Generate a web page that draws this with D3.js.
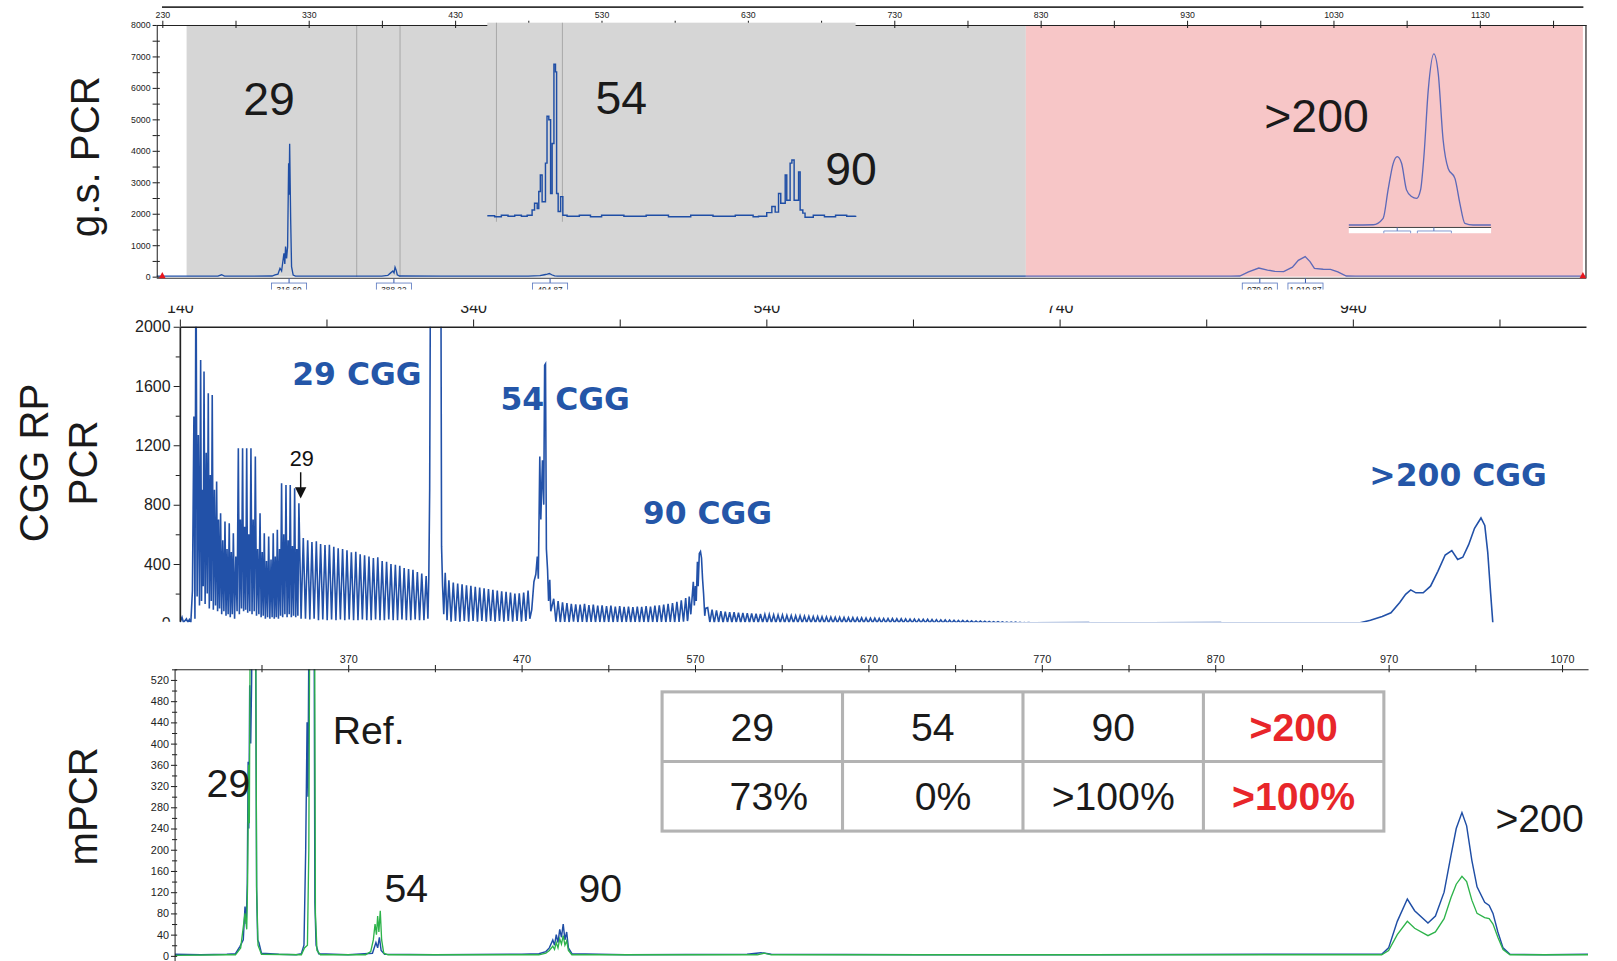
<!DOCTYPE html>
<html><head><meta charset="utf-8">
<script src="https://cdn.jsdelivr.net/npm/d3@7"></script>
<style>body{margin:0;background:#fff}svg{display:block}</style>
</head><body><svg id="c"></svg>
<script>
// ---------------- DATA ----------------
// Top panel (g.s. PCR) — size (bp) vs fluorescence
const topTicks = [230,330,430,530,630,730,830,930,1030,1130];
const topMinorTicks = [280,380,480,580,680,780,880,980,1080,1180];
const topYTicks = [0,1000,2000,3000,4000,5000,6000,7000,8000];
const topYMinor = [500,1500,2500,3500,4500,5500,6500,7500];
const topBins = [362.8, 392.4];
const topGrayRange = [246.6, 819.9];
const topPinkRange = [819.9, 1200.4];
const topTrace = [
 [226.2,15],[240,18],[255,15],[268,18],[270.5,60],[272.5,18],[290,15],[305,20],[307,55],[309,80],
 [310.4,266],[311.5,180],[313.1,744],[313.7,400],[314.2,954],[314.9,580],[315.6,954],[316.3,3603],
 [316.6,2600],[317,4220],[317.7,1803],[318.3,318],[319.4,50],[321,18],[340,15],[360,18],[380,15],
 [384,40],[386,120],[387.5,180],[388.3,120],[389,300],[389.8,200],[390.5,60],[392,20],[420,15],
 [450,18],[480,15],[488,30],[491,60],[493,80],[494.4,100],[496,60],[498,25],[500,15],[600,18],
 [700,15],[819.9,15],[900,18],[960,15],[966,20],[972,150],[979,273],[985,210],[990,170],[996,160],
 [1002,300],[1006,520],[1010.7,636],[1014,480],[1017,260],[1023,235],[1028,230],[1033,150],
 [1038.8,20],[1045,15],[1100,18],[1202.5,15]
];
const topPeakLabels = [[316.6,"316.60"],[388.2,"388.22"],[494.9,"494.87"],[979.7,"979.69"],[1010.9,"1,010.87"]];
const topLabels = [["29",260.8,111.5],["54",602.5,110.9],["90",825.3,179.4],[">200",1276.7,127.7]];
// inset (zoom of 54 / 90 peaks)
const inset54Trace = [
 [358.7,3],[362,1],[365,4],[368,2],[371,4],[374,2],[376.6,4],[378.8,14],[379.9,27],[381.1,17],[381.8,50],
 [382.5,82],[383.3,30],[384.8,105],[385.5,196],[386.3,189],[387.1,46],[387.8,143],[388.6,297],[389.3,282],
 [389.8,46],[390.5,11],[391.6,40],[392.6,4],[394.5,2],[400,4],[405,1],[410,4],[420,2],[430,4],[440,1],
 [450,4],[460,2],[470,4],[478,1],[480.4,2],[484.1,9],[486.4,21],[487.9,10],[489.4,46],[490.4,27],
 [492.4,82],[493.1,33],[494.6,105],[495.4,111],[496.4,33],[498.4,88],[499.1,14],[500.3,8],[501.3,0],
 [505,4],[510,1],[515,4],[520,2],[524,3]
];
// inset (zoom of >200 peaks)
const insetRTrace = [
 [937.3,0],[958.6,1],[967.3,25],[971.6,131],[976.1,230],[979.6,255],[983.4,230],[987.7,131],[992.1,106],
 [996.5,99],[1000,131],[1002.9,255],[1006.7,503],[1011.6,638],[1015.4,566],[1019.7,317],[1024.1,211],
 [1030,174],[1034.3,81],[1038.7,6],[1045.9,0],[1061.4,0]
];
const insetRMarks = [979.6, 1011.6];

// Middle panel (CGG RP PCR)
const midTicks = [140,340,540,740,940];
const midMinorTicks = [240,440,640,840,1040];
const midYTicks = [0,400,800,1200,1600,2000];
const midYMinor = [200,600,1000,1400,1800];
const midStart = [[140,2],[141.5,40],[142.5,5],[144.5,30],[145.5,5],[146.5,25],[147.5,5],[148.6,220]];
// [bp, peak, trough]
const midRegion1 = [
 [149.6,1394,30],[151.0,2600,180],[152.6,1270,120],[154.2,1776,150],[155.4,900,250],[156.5,1698,130],
 [158.0,1150,200],[159.4,1552,100],[160.8,1000,150],[162.1,1540,90],[163.6,900,120],[165.1,956,80],
 [166.4,700,100],[167.8,742,60],[169.3,560,80],[170.8,686,50],[172.2,500,60],[173.7,675,40],
 [175.1,480,60],[176.5,607,30],[178.2,450,80],[179.9,1181,60],[181.3,700,100],[182.8,1181,80],
 [184.2,650,90],[185.6,1181,70],[187.0,600,80],[188.5,1181,60],[190.0,700,80],[191.5,1124,50],
 [193.1,500,60],[194.7,742,40],[196.2,480,50],[197.6,607,30],[199.1,420,40],[200.6,585,30],
 [202.2,430,40],[203.7,607,30],[205.1,450,40],[206.5,630,30],[208.0,500,50],[209.4,945,40],
 [210.9,600,60],[212.4,933,40],[213.9,560,60],[215.3,933,40],[216.8,520,50],[218.3,911,40],
 [219.8,500,50],[221.2,810,30],[224.2,574,30],[227.2,560,25],[230.1,548,30],[233.1,552,20],
 [236,535,25],[239,528,20],[242,530,25],[245,515,20],[248,506,25],[251,500,20],[254,492,25],
 [257,478,20],[260,482,20],[263,465,25],[266,458,20],[269,450,20],[272,440,25],[275,444,20],
 [278,420,20],[281,415,25],[284,400,20],[287,394,20],[290,388,25],[293,372,20],[296,366,20],
 [299,360,25],[302,345,20],[305,335,20],[308,318,30]
];
const midPeak29 = [[309.8,300],[310.4,900],[311,2600],[318,2600],[318.5,520],[319.2,250],[320,60]];
const midRegion2 = [
 [321,340,20],[323.5,290,10],[326.5,275,15],[329.5,268,10],[332.5,262,15],[335.5,255,10],[338.5,252,15],
 [341.5,246,10],[344.5,240,15],[347.5,236,10],[350.5,230,15],[353.5,226,10],[356.5,220,15],[359.5,216,10],
 [362.5,212,15],[365.5,206,10],[368.5,200,15],[371.5,202,10],[374.5,206,15],[377.5,220,30]
];
const midPeak54 = [[380,90],[381.5,280],[382.8,330],[383.8,450],[384.5,300],[385.5,1124],[386.2,700],
 [387.3,1100],[388.2,800],[388.8,1740],[389.4,1750],[390,500],[390.8,360],[391.5,150],[392.3,293],[393,80]];
const midRegion3 = [
 [395,165,10],[398,150,5],[401,140,8],[404,135,5],[407,130,10],[410,128,5],[413,125,8],[416,130,5],
 [419,122,8],[422,125,5],[425,118,8],[428,120,5],[431,115,8],[434,118,5],[437,112,8],[440,115,5],
 [443,110,8],[446,112,5],[449,108,8],[452,112,5],[455,110,8],[458,115,5],[461,112,8],[464,118,5],
 [467,120,8],[470,125,5],[473,130,8],[476,135,5],[479,145,8],[482,155,10],[485,170,15]
];
const midPeak90 = [[486.5,30],[487.4,180],[488.5,60],[490.2,280],[490.9,120],[491.6,250],[492.2,150],
 [493,414],[493.5,250],[494.3,470],[495.1,483],[495.8,440],[496.5,300],[497.2,200],[498,50],[498.6,100]];
const midRegion4 = [
 [500,105,5],[503,92,3],[506,86,5],[509,82,3],[512,78,5],[515,75,3],[518,74,4],[521,71,3],[524,69,4],
 [527,67,3],[530,66,4],[533,64,3],[536,62,4],[539,60,3],[542,59,3],[545,57,2],[548,56,3],[551,55,2],
 [554,53,3],[557,52,2],[560,51,3],[563,50,2],[566,48,3],[569,47,2],[572,46,2],[575,45,2],[578,44,2],
 [581,43,2],[584,42,2],[587,41,2],[590,40,2],[593,39,2],[596,38,2],[599,38,2],[602,37,2],[605,36,2],
 [608,35,2],[611,34,2],[614,34,2],[617,33,2],[620,32,2],[623,32,2],[626,31,2],[629,30,2],[632,30,2],
 [635,29,2],[638,28,2],[641,28,2],[644,27,2],[647,26,2],[650,26,2],[653,25,2],[656,24,2],[659,23,2],
 [662,22,2],[665,21,2],[668,20,2],[671,19,2],[674,18,2],[677,17,2],[680,16,2],[683,15,2],[686,14,2],
 [689,13,2],[692,12,2],[695,11,2],[698,10,2],[701,9,2],[704,8,2],[707,8,2],[710,7,2],[713,6,2],
 [716,5,2],[719,4,2]
];
const midTail = [[721,2],[760,4],[761,2],[800,3],[801,2],[850,4],[851,2],[900,3],[901,2],[940,2]];
const midPeak200 = [[945,3],[952,20],[960,45],[966,70],[972,140],[976,195],[979.5,225],[983,205],[988,205],
 [993,250],[998,350],[1003,460],[1007.5,490],[1011.5,430],[1015,445],[1019,530],[1023,640],[1027.4,710],
 [1030,660],[1032,480],[1034,200],[1035.5,0]];
const midLabels = [["29 CGG",346,373.3],["54 CGG",548,397.6],["90 CGG",686,508],[">200 CGG",1414,471]];

// Bottom panel (mPCR)
const botTicks = [370,470,570,670,770,870,970,1070];
const botMinorTicks = [320,420,520,620,720,820,920,1020];
const botYTicks = [0,40,80,120,160,200,240,280,320,360,400,440,480,520];
const botYMinor = [20,60,100,140,180,220,260,300,340,380,420,460,500,540];
const botBlue = [
 [270,3],[285,2],[300,3],[305,4],[307.6,18],[309.5,30],[310.5,93],[311.2,60],[311.8,137],[312.3,366],
 [312.7,240],[313.2,510],[313.8,400],[314.3,514],[314.8,700],[316.5,700],[317.2,124],[317.8,30],[318.5,25],
 [320,5],[330,3],[340,2],[343,4],[344.5,20],[345.5,200],[346.3,440],[346.8,300],[347.5,700],[350.3,700],
 [350.8,100],[351.5,20],[353,4],[370,2],[384,5],[386,25],[387,15],[388,35],[389,10],[391,3],[420,2],
 [470,3],[480,4],[484,8],[486,15],[488,30],[489,20],[490,40],[491,25],[492,50],[493,35],[494,60],[495,30],
 [496,45],[497,15],[499,4],[530,2],[600,3],[608,6],[614,3],[700,2],[800,2],[900,3],[966,3],[970,15],
 [975,65],[980.8,107],[985,85],[992.7,62],[997,75],[1002,120],[1006,190],[1009,240],[1012.3,270],
 [1015,245],[1018,180],[1021,130],[1025.4,101],[1028,95],[1030.2,80],[1033,45],[1036,15],[1040,3],
 [1060,2],[1085,3]
];
const botGreen = [
 [270,1],[300,2],[305,2],[308,15],[310.5,80],[311.5,50],[312,140],[312.6,360],[313,250],[313.6,700],
 [316.6,700],[317.2,130],[318,20],[320,3],[343,2],[344.8,15],[346.5,20],[347.3,200],[347.9,700],
 [350.6,700],[351.1,80],[352,10],[354,2],[380,2],[383,8],[384.5,30],[385.5,60],[386.3,40],[387,75],
 [387.7,45],[388.5,85],[389.3,30],[390.5,5],[393,2],[480,2],[484,5],[486,10],[488,18],[489,12],[490,25],
 [491,15],[492,32],[493,22],[494,38],[495,20],[496,28],[497,10],[499,2],[606,2],[610,5],[614,2],
 [966,2],[970,10],[975,40],[980.8,65],[985,52],[992.7,38],[997,45],[1002,70],[1006,110],[1009,135],
 [1012.3,150],[1015,140],[1018,105],[1021,80],[1025.4,72],[1028,70],[1030.2,60],[1033,35],[1036,12],
 [1040,2],[1085,2]
];
const botLabels = [["29",221.4,772.5],["Ref.",357.5,722],["54",394,875],["90",582,875],[">200",1493,807]];
const tableRow1 = ["29","54","90",">200"];
const tableRow2 = ["73%","0%",">100%",">100%"];
const tableHighlight = [false,false,false,true];

// ---------------- DRAWING ----------------
const SANS = "'Liberation Sans', Arial, sans-serif";
const NARROW = "'Liberation Sans Narrow', 'Liberation Sans', Arial, sans-serif";
const BOLD = "'DejaVu Sans', Verdana, sans-serif";
const BLUE = "#1f4ea5", LAV = "#5d69b8", GREEN = "#2db34a", LBLUE = "#2456a8", RED = "#e8262a";

const svg = d3.select("#c").attr("width",1617).attr("height",961).attr("viewBox","0 0 1568 932");
svg.append("rect").attr("width",1568).attr("height",932).attr("fill","#fff");
const defs = svg.append("defs");

function styleAxis(g, size, font, col){
  g.selectAll("text").attr("font-family", font).attr("font-size", size).attr("fill", col||"#222");
  g.selectAll("line").attr("stroke","#222");
  g.select(".domain").attr("stroke","#222");
}
function noDomain(g){ g.select(".domain").remove(); }

// ===== TOP PANEL =====
const xT = d3.scaleLinear().domain([226.2,1202.5]).range([151.9,1538]);
const yT = d3.scaleLinear().domain([0,8000]).range([268.3,24.2]);
const topG = svg.append("g");
topG.append("line").attr("x1",157).attr("x2",1535.5).attr("y1",6.9).attr("y2",6.9).attr("stroke","#333").attr("stroke-width",1.5);
topG.append("rect").attr("x",xT(topGrayRange[0])).attr("width",xT(topGrayRange[1])-xT(topGrayRange[0]))
  .attr("y",yT(8000)).attr("height",yT(0)-yT(8000)).attr("fill","#d6d6d6");
topG.append("rect").attr("x",xT(topPinkRange[0])).attr("width",xT(topPinkRange[1])-xT(topPinkRange[0]))
  .attr("y",yT(8000)).attr("height",yT(0)-yT(8000)).attr("fill","#f7c6c7");
topG.selectAll(".bin").data(topBins).join("line").attr("x1",d=>xT(d)).attr("x2",d=>xT(d))
  .attr("y1",yT(8000)).attr("y2",yT(0)).attr("stroke","#a9a9a9").attr("stroke-width",1);
const lineT = d3.line().x(d=>xT(d[0])).y(d=>yT(d[1]));
topG.append("path").attr("d",lineT(topTrace.filter(d=>d[0]<=820))).attr("fill","none").attr("stroke",BLUE).attr("stroke-width",1.3);
topG.append("path").attr("d",lineT(topTrace.filter(d=>d[0]>=819.9))).attr("fill","none").attr("stroke",LAV).attr("stroke-width",1.3);
topG.append("line").attr("x1",151.9).attr("x2",1538).attr("y1",269.8).attr("y2",269.8).attr("stroke","#333").attr("stroke-width",1);
topG.append("line").attr("x1",1538).attr("x2",1538).attr("y1",24.2).attr("y2",270).attr("stroke","#555").attr("stroke-width",1.5);
topG.append("g").attr("transform",`translate(0,${yT(8000)})`)
  .call(d3.axisTop(xT).tickValues(topTicks).tickSize(4).tickSizeOuter(0).tickPadding(3).tickFormat(d3.format("d")))
  .call(g=>styleAxis(g,8.5,NARROW));
topG.append("g").attr("transform",`translate(0,${yT(8000)})`)
  .call(d3.axisTop(xT).tickValues(topMinorTicks).tickSize(4).tickFormat("")).call(noDomain).call(g=>styleAxis(g,8,NARROW));
topG.append("g").attr("transform",`translate(0,${yT(8000)})`)
  .call(d3.axisBottom(xT).tickValues(topTicks.concat(topMinorTicks)).tickSize(3).tickFormat("")).call(noDomain).call(g=>styleAxis(g,8,NARROW));
topG.append("g").attr("transform",`translate(151.9,0)`)
  .call(d3.axisLeft(yT).tickValues(topYTicks).tickSize(4).tickSizeOuter(0).tickPadding(2).tickFormat(d3.format("d")))
  .call(g=>styleAxis(g,8.5,NARROW));
topG.append("g").attr("transform",`translate(151.9,0)`)
  .call(d3.axisLeft(yT).tickValues(topYMinor).tickSize(4).tickFormat("")).call(noDomain).call(g=>styleAxis(g,8,NARROW));
topG.append("g").attr("transform",`translate(151.9,0)`)
  .call(d3.axisRight(yT).tickValues(topYTicks.concat(topYMinor)).tickSize(3).tickFormat("")).call(noDomain).call(g=>styleAxis(g,8,NARROW));
[230, 1200.4].forEach(b=>{
  const x=xT(b), y=yT(0);
  topG.append("path").attr("d",`M${x-3.2},${y+1.5}L${x+3.2},${y+1.5}L${x},${y-4.5}Z`).attr("fill","#e8141b");
});
const pl = topG.selectAll(".pl").data(topPeakLabels).join("g");
pl.append("line").attr("x1",d=>xT(d[0])).attr("x2",d=>xT(d[0])).attr("y1",269.8).attr("y2",274.5).attr("stroke","#3a5cb0");
pl.append("rect").attr("x",d=>xT(d[0])-17).attr("y",274.5).attr("width",34).attr("height",12).attr("fill","#fff").attr("stroke","#5a78c0").attr("stroke-width",0.8);
pl.append("text").attr("x",d=>xT(d[0])).attr("y",284).attr("text-anchor","middle").attr("font-family",NARROW).attr("font-size",8).attr("fill","#222").text(d=>d[1]);

// left inset
const xI = d3.scaleLinear().domain([358.7,524]).range([472.5,829.7]);
const yI = d3.scaleLinear().domain([0,400]).range([210.7,10.7]);
const ins = svg.append("g");
ins.append("rect").attr("x",xI(358.7)).attr("y",22).attr("width",xI(524)-xI(358.7)).attr("height",193).attr("fill","#d6d6d6");
ins.selectAll(".bin").data(topBins).join("line").attr("x1",d=>xI(d)).attr("x2",d=>xI(d))
  .attr("y1",22).attr("y2",215).attr("stroke","#a9a9a9").attr("stroke-width",1);
ins.append("path").attr("d",d3.line().x(d=>xI(d[0])).y(d=>yI(d[1])).curve(d3.curveStepAfter)(inset54Trace)).attr("fill","none").attr("stroke",BLUE).attr("stroke-width",1.4);

// right inset
const xR = d3.scaleLinear().domain([937.3,1061.6]).range([1308,1446]);
const yR = d3.scaleLinear().domain([0,700]).range([218.2,36.2]);
const insR = svg.append("g");
insR.append("rect").attr("x",1308).attr("y",220.4).attr("width",138).attr("height",5.8).attr("fill","#fff");
insR.append("line").attr("x1",1308).attr("x2",1446).attr("y1",220.6).attr("y2",220.6).attr("stroke","#333").attr("stroke-width",0.9);
insR.append("path").attr("d",d3.line().x(d=>xR(d[0])).y(d=>yR(d[1])).curve(d3.curveMonotoneX)(insetRTrace)).attr("fill","none").attr("stroke",LAV).attr("stroke-width",1.3);
insR.selectAll(".m").data(insetRMarks).join("g").each(function(d,i){
  const g=d3.select(this), x=xR(d);
  g.append("line").attr("x1",x).attr("x2",x).attr("y1",220.6).attr("y2",224).attr("stroke","#5a78c0");
  g.append("path").attr("d",`M${x-(i?16:13)},226.2V224H${x+(i?17:13)}V226.2`).attr("fill","none").attr("stroke","#6a86c8").attr("stroke-width",0.8);
});
svg.append("g").selectAll("text").data(topLabels).join("text")
  .attr("x",d=>d[1]).attr("y",d=>d[2]).attr("text-anchor","middle").attr("font-family",SANS).attr("font-size",45).attr("fill","#1a1a1a").text(d=>d[0]);
svg.append("text").attr("transform","translate(96,152) rotate(-90)").attr("text-anchor","middle")
  .attr("font-family",SANS).attr("font-size",39).attr("fill","#1a1a1a").text("g.s. PCR");

// ===== MIDDLE PANEL =====
svg.append("rect").attr("x",0).attr("y",281).attr("width",1568).attr("height",651).attr("fill","#fff");
const xM = d3.scaleLinear().domain([140,1099]).range([174.3,1538]);
const yM = d3.scaleLinear().domain([0,2000]).range([604.4,316.9]);
defs.append("clipPath").attr("id","cm").append("rect").attr("x",174.3).attr("y",316.9).attr("width",1366).attr("height",286.5);
defs.append("clipPath").attr("id","cmY").append("rect").attr("x",-180).attr("y",300).attr("width",190).attr("height",303);
function spikes(arr){
  const out=[];
  arr.forEach((d,i)=>{
    out.push([d[0],d[1]]);
    const nx = i<arr.length-1 ? (d[0]+arr[i+1][0])/2 : d[0]+1.2;
    out.push([nx,d[2]]);
  });
  return out;
}
const midTrace = [].concat(midStart, spikes(midRegion1), midPeak29, spikes(midRegion2), midPeak54,
  spikes(midRegion3), midPeak90, spikes(midRegion4), midTail, midPeak200);
const midG = svg.append("g");
midG.append("path").attr("clip-path","url(#cm)").attr("d",d3.line().x(d=>xM(d[0])).y(d=>yM(d[1]))(midTrace))
  .attr("fill","none").attr("stroke","#2251a8").attr("stroke-width",1.55).attr("stroke-linejoin","miter");
midG.append("g").attr("transform",`translate(0,${yM(2000)})`)
  .call(d3.axisTop(xM).tickValues(midTicks).tickSize(7).tickSizeOuter(0).tickPadding(6).tickFormat(d3.format("d")))
  .call(g=>styleAxis(g,15.5,SANS)).call(g=>g.select(".domain").attr("stroke-width",1.6));
midG.append("g").attr("transform",`translate(0,${yM(2000)})`)
  .call(d3.axisTop(xM).tickValues(midMinorTicks).tickSize(7).tickFormat("")).call(noDomain).call(g=>styleAxis(g,10,SANS));
midG.append("g").attr("transform",`translate(174.3,0)`).attr("clip-path","url(#cmY)")
  .call(d3.axisLeft(yM).tickValues(midYTicks).tickSize(6).tickSizeOuter(0).tickPadding(3).tickFormat(d3.format("d")))
  .call(g=>styleAxis(g,15.5,SANS)).call(g=>g.select(".domain").attr("stroke-width",1.6));
midG.append("g").attr("transform",`translate(174.3,0)`)
  .call(d3.axisLeft(yM).tickValues(midYMinor).tickSize(4).tickFormat("")).call(noDomain).call(g=>styleAxis(g,10,SANS));
midG.append("rect").attr("x",150).attr("y",281).attr("width",1200).attr("height",15.5).attr("fill","#fff");
midG.selectAll(".ml").data(midLabels).join("text").attr("x",d=>d[1]).attr("y",d=>d[2]).attr("text-anchor","middle")
  .attr("font-family",BOLD).attr("font-weight","bold").attr("font-size",30.5).attr("fill",LBLUE).text(d=>d[0]);
midG.append("text").attr("x",292.5).attr("y",451.5).attr("text-anchor","middle").attr("font-family",SANS).attr("font-size",21).attr("fill","#111").text("29");
midG.append("line").attr("x1",291.5).attr("x2",291.5).attr("y1",458).attr("y2",476).attr("stroke","#111").attr("stroke-width",1.4);
midG.append("path").attr("d","M286,472.5L297,472.5L291.5,483.5Z").attr("fill","#111");
svg.append("text").attr("transform","translate(46,449) rotate(-90)").attr("text-anchor","middle")
  .attr("font-family",SANS).attr("font-size",39).attr("fill","#1a1a1a").text("CGG RP");
svg.append("text").attr("transform","translate(94,449) rotate(-90)").attr("text-anchor","middle")
  .attr("font-family",SANS).attr("font-size",39).attr("fill","#1a1a1a").text("PCR");

// ===== BOTTOM PANEL =====
const xB = d3.scaleLinear().domain([270,1085]).range([169.4,1540]);
const yB = d3.scaleLinear().domain([0,520]).range([927,659.4]);
defs.append("clipPath").attr("id","cb").append("rect").attr("x",169.4).attr("y",649).attr("width",1372).attr("height",283);
const botG = svg.append("g");
const lineB = d3.line().x(d=>xB(d[0])).y(d=>yB(d[1]));
botG.append("path").attr("clip-path","url(#cb)").attr("d",lineB(botBlue)).attr("fill","none").attr("stroke",BLUE).attr("stroke-width",1.4);
botG.append("path").attr("clip-path","url(#cb)").attr("d",lineB(botGreen)).attr("fill","none").attr("stroke",GREEN).attr("stroke-width",1.3);
const yTopB = yB.invert(649);
botG.append("g").attr("transform",`translate(0,649)`)
  .call(d3.axisTop(xB).tickValues(botTicks).tickSize(4).tickSizeOuter(0).tickPadding(2).tickFormat(d3.format("d")))
  .call(g=>styleAxis(g,10.5,NARROW));
botG.append("g").attr("transform",`translate(0,649)`)
  .call(d3.axisTop(xB).tickValues(botMinorTicks).tickSize(4).tickFormat("")).call(noDomain).call(g=>styleAxis(g,10,NARROW));
botG.append("g").attr("transform",`translate(0,649)`)
  .call(d3.axisBottom(xB).tickValues(botTicks.concat(botMinorTicks)).tickSize(3).tickFormat("")).call(noDomain).call(g=>styleAxis(g,10,NARROW));
botG.append("line").attr("x1",169.7).attr("x2",169.7).attr("y1",649).attr("y2",932).attr("stroke","#222");
botG.append("g").attr("transform",`translate(169.7,0)`)
  .call(d3.axisLeft(yB).tickValues(botYTicks).tickSize(4).tickSizeOuter(0).tickPadding(2).tickFormat(d3.format("d")))
  .call(noDomain).call(g=>styleAxis(g,10.5,SANS));
botG.append("g").attr("transform",`translate(169.7,0)`)
  .call(d3.axisLeft(yB).tickValues(botYMinor.filter(v=>v<yTopB)).tickSize(3).tickFormat("")).call(noDomain).call(g=>styleAxis(g,10,SANS));
botG.append("g").attr("transform",`translate(169.7,0)`)
  .call(d3.axisRight(yB).tickValues(botYTicks.concat(botYMinor).filter(v=>v<yTopB)).tickSize(2).tickFormat("")).call(noDomain).call(g=>styleAxis(g,10,SANS));
botG.selectAll(".bl").data(botLabels).join("text").attr("x",d=>d[1]).attr("y",d=>d[2]).attr("text-anchor","middle")
  .attr("font-family",SANS).attr("font-size",38).attr("fill","#1a1a1a").text(d=>d[0]);
svg.append("text").attr("transform","translate(94,782) rotate(-90)").attr("text-anchor","middle")
  .attr("font-family",SANS).attr("font-size",39).attr("fill","#1a1a1a").text("mPCR");

// table
const tx = d3.scaleBand().domain(d3.range(tableRow1.length)).range([642,1342]);
const ty = d3.scaleBand().domain([0,1]).range([671,806]);
const tb = botG.append("g");
tb.append("rect").attr("x",642).attr("y",671).attr("width",700).attr("height",135).attr("fill","#fff").attr("stroke","#b3b3b3").attr("stroke-width",3);
tb.selectAll(".vc").data(d3.range(1,tableRow1.length)).join("line").attr("x1",d=>tx(d)).attr("x2",d=>tx(d))
  .attr("y1",671).attr("y2",806).attr("stroke","#b3b3b3").attr("stroke-width",3);
tb.append("line").attr("x1",642).attr("x2",1342).attr("y1",ty(1)).attr("y2",ty(1)).attr("stroke","#b3b3b3").attr("stroke-width",3);
const row2dx = [16,10,0,0];
[tableRow1, tableRow2].forEach((row,r)=>{
  tb.selectAll(".r"+r).data(row).join("text")
    .attr("x",(d,i)=>tx(i)+tx.bandwidth()/2+(r?row2dx[i]:0))
    .attr("y",ty(r)+ty.bandwidth()/2+13.5)
    .attr("text-anchor","middle").attr("font-family",SANS).attr("font-size",38)
    .attr("font-weight",(d,i)=>tableHighlight[i]?"bold":"normal")
    .attr("fill",(d,i)=>tableHighlight[i]?RED:"#1a1a1a").text(d=>d);
});
</script></body></html>
